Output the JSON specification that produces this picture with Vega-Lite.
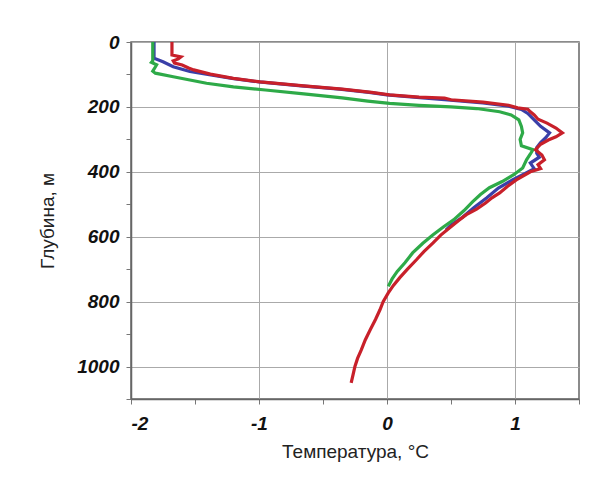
{
  "$schema": "https://vega.github.io/schema/vega-lite/v6.json",
  "autosize": "none",
  "width": 448,
  "height": 357,
  "padding": {"left": 131, "top": 42, "right": 31, "bottom": 82},
  "background": "white",
  "config": {
    "view": {"stroke": "#666666", "strokeWidth": 1.5},
    "axis": {
      "labelFont": "Liberation Sans",
      "labelFontWeight": "bold",
      "labelFontStyle": "italic",
      "labelFontSize": 19,
      "labelColor": "#111111",
      "titleFont": "Liberation Sans",
      "titleFontWeight": "normal",
      "titleFontSize": 19,
      "titleColor": "#222222",
      "domainColor": "#666666",
      "domainWidth": 1.5,
      "tickColor": "#777777",
      "tickSize": 5,
      "gridColor": "#aaaaaa",
      "gridWidth": 1
    }
  },
  "datasets": {
    "profiles": [
      {"series": "blue", "depth": 0, "T": -1.82},
      {"series": "blue", "depth": 50, "T": -1.82},
      {"series": "blue", "depth": 61, "T": -1.75},
      {"series": "blue", "depth": 76, "T": -1.67},
      {"series": "blue", "depth": 91, "T": -1.54},
      {"series": "blue", "depth": 100, "T": -1.40},
      {"series": "blue", "depth": 112, "T": -1.21},
      {"series": "blue", "depth": 123, "T": -1.0},
      {"series": "blue", "depth": 135, "T": -0.67},
      {"series": "blue", "depth": 145, "T": -0.37},
      {"series": "blue", "depth": 155, "T": -0.14},
      {"series": "blue", "depth": 163, "T": 0.0},
      {"series": "blue", "depth": 172, "T": 0.28},
      {"series": "blue", "depth": 178, "T": 0.45},
      {"series": "blue", "depth": 188, "T": 0.75},
      {"series": "blue", "depth": 198, "T": 0.95},
      {"series": "blue", "depth": 208, "T": 1.05},
      {"series": "blue", "depth": 220, "T": 1.10},
      {"series": "blue", "depth": 240, "T": 1.15},
      {"series": "blue", "depth": 260, "T": 1.20},
      {"series": "blue", "depth": 280, "T": 1.27},
      {"series": "blue", "depth": 295, "T": 1.24},
      {"series": "blue", "depth": 310, "T": 1.20},
      {"series": "blue", "depth": 325, "T": 1.17},
      {"series": "blue", "depth": 343, "T": 1.17},
      {"series": "blue", "depth": 355, "T": 1.19},
      {"series": "blue", "depth": 373, "T": 1.12},
      {"series": "blue", "depth": 390, "T": 1.15},
      {"series": "blue", "depth": 405, "T": 1.08},
      {"series": "blue", "depth": 425, "T": 0.98},
      {"series": "blue", "depth": 450, "T": 0.87},
      {"series": "blue", "depth": 480, "T": 0.78},
      {"series": "blue", "depth": 510, "T": 0.68},
      {"series": "blue", "depth": 540, "T": 0.59},
      {"series": "blue", "depth": 564, "T": 0.50},
      {"series": "blue", "depth": 580, "T": 0.46},

      {"series": "green", "depth": 0, "T": -1.83},
      {"series": "green", "depth": 58, "T": -1.83},
      {"series": "green", "depth": 63, "T": -1.84},
      {"series": "green", "depth": 70, "T": -1.80},
      {"series": "green", "depth": 77, "T": -1.81},
      {"series": "green", "depth": 90, "T": -1.83},
      {"series": "green", "depth": 96, "T": -1.81},
      {"series": "green", "depth": 107, "T": -1.67},
      {"series": "green", "depth": 117, "T": -1.54},
      {"series": "green", "depth": 127, "T": -1.41},
      {"series": "green", "depth": 138, "T": -1.20},
      {"series": "green", "depth": 148, "T": -0.95},
      {"series": "green", "depth": 160, "T": -0.65},
      {"series": "green", "depth": 172, "T": -0.35},
      {"series": "green", "depth": 182, "T": -0.15},
      {"series": "green", "depth": 189, "T": 0.02},
      {"series": "green", "depth": 195, "T": 0.25},
      {"series": "green", "depth": 200, "T": 0.50},
      {"series": "green", "depth": 205, "T": 0.70},
      {"series": "green", "depth": 215, "T": 0.88},
      {"series": "green", "depth": 225, "T": 0.97},
      {"series": "green", "depth": 240, "T": 1.03},
      {"series": "green", "depth": 260, "T": 1.05},
      {"series": "green", "depth": 280, "T": 1.06},
      {"series": "green", "depth": 300, "T": 1.04},
      {"series": "green", "depth": 320, "T": 1.05},
      {"series": "green", "depth": 332, "T": 1.14},
      {"series": "green", "depth": 345, "T": 1.12},
      {"series": "green", "depth": 363, "T": 1.09},
      {"series": "green", "depth": 388, "T": 1.06},
      {"series": "green", "depth": 409, "T": 0.99},
      {"series": "green", "depth": 430, "T": 0.90},
      {"series": "green", "depth": 449, "T": 0.80},
      {"series": "green", "depth": 470, "T": 0.73},
      {"series": "green", "depth": 492, "T": 0.67},
      {"series": "green", "depth": 520, "T": 0.60},
      {"series": "green", "depth": 548, "T": 0.52},
      {"series": "green", "depth": 570, "T": 0.44},
      {"series": "green", "depth": 594, "T": 0.36},
      {"series": "green", "depth": 620, "T": 0.28},
      {"series": "green", "depth": 650, "T": 0.20},
      {"series": "green", "depth": 680, "T": 0.14},
      {"series": "green", "depth": 707, "T": 0.08},
      {"series": "green", "depth": 730, "T": 0.04},
      {"series": "green", "depth": 753, "T": 0.01},

      {"series": "red", "depth": 0, "T": -1.68},
      {"series": "red", "depth": 40, "T": -1.68},
      {"series": "red", "depth": 46, "T": -1.61},
      {"series": "red", "depth": 52, "T": -1.63},
      {"series": "red", "depth": 58, "T": -1.67},
      {"series": "red", "depth": 65, "T": -1.66},
      {"series": "red", "depth": 71, "T": -1.60},
      {"series": "red", "depth": 80, "T": -1.55},
      {"series": "red", "depth": 86, "T": -1.51},
      {"series": "red", "depth": 99, "T": -1.38},
      {"series": "red", "depth": 112, "T": -1.20},
      {"series": "red", "depth": 123, "T": -0.99},
      {"series": "red", "depth": 135, "T": -0.65},
      {"series": "red", "depth": 145, "T": -0.35},
      {"series": "red", "depth": 155, "T": -0.12},
      {"series": "red", "depth": 163, "T": 0.02},
      {"series": "red", "depth": 170, "T": 0.25},
      {"series": "red", "depth": 173, "T": 0.45},
      {"series": "red", "depth": 178, "T": 0.50},
      {"series": "red", "depth": 185, "T": 0.75},
      {"series": "red", "depth": 195, "T": 0.95},
      {"series": "red", "depth": 203, "T": 1.02},
      {"series": "red", "depth": 207, "T": 1.10},
      {"series": "red", "depth": 215, "T": 1.12},
      {"series": "red", "depth": 225, "T": 1.15},
      {"series": "red", "depth": 238, "T": 1.18},
      {"series": "red", "depth": 250, "T": 1.25},
      {"series": "red", "depth": 265, "T": 1.32},
      {"series": "red", "depth": 280, "T": 1.37},
      {"series": "red", "depth": 292, "T": 1.32},
      {"series": "red", "depth": 302, "T": 1.26},
      {"series": "red", "depth": 315, "T": 1.20},
      {"series": "red", "depth": 332, "T": 1.16},
      {"series": "red", "depth": 348, "T": 1.21},
      {"series": "red", "depth": 363, "T": 1.23},
      {"series": "red", "depth": 378, "T": 1.18},
      {"series": "red", "depth": 390, "T": 1.20},
      {"series": "red", "depth": 400, "T": 1.12},
      {"series": "red", "depth": 425, "T": 1.01},
      {"series": "red", "depth": 445, "T": 0.94},
      {"series": "red", "depth": 465, "T": 0.88},
      {"series": "red", "depth": 480, "T": 0.82},
      {"series": "red", "depth": 496, "T": 0.77},
      {"series": "red", "depth": 515, "T": 0.70},
      {"series": "red", "depth": 532, "T": 0.62},
      {"series": "red", "depth": 550, "T": 0.56},
      {"series": "red", "depth": 572, "T": 0.49},
      {"series": "red", "depth": 595, "T": 0.42},
      {"series": "red", "depth": 619, "T": 0.36},
      {"series": "red", "depth": 645, "T": 0.29},
      {"series": "red", "depth": 671, "T": 0.23},
      {"series": "red", "depth": 700, "T": 0.16},
      {"series": "red", "depth": 726, "T": 0.10},
      {"series": "red", "depth": 750, "T": 0.05},
      {"series": "red", "depth": 773, "T": 0.01},
      {"series": "red", "depth": 800, "T": -0.03},
      {"series": "red", "depth": 825, "T": -0.055},
      {"series": "red", "depth": 855, "T": -0.09},
      {"series": "red", "depth": 886, "T": -0.13},
      {"series": "red", "depth": 918, "T": -0.17},
      {"series": "red", "depth": 948, "T": -0.20},
      {"series": "red", "depth": 975, "T": -0.23},
      {"series": "red", "depth": 999, "T": -0.25},
      {"series": "red", "depth": 1025, "T": -0.265},
      {"series": "red", "depth": 1050, "T": -0.28}
    ]
  },
  "data": {"name": "profiles"},
  "encoding": {
    "x": {
      "field": "T",
      "type": "quantitative",
      "scale": {"domain": [-2, 1.5], "nice": false, "zero": false},
      "axis": {
        "title": "Температура, °C",
        "values": [-2, -1.5, -1, -0.5, 0, 0.5, 1, 1.5],
        "labelExpr": "datum.value % 1 === 0 ? toString(datum.value) : ''",
        "labelPadding": 10,
        "titlePadding": 9,
        "gridOpacity": {"condition": {"test": "datum.value % 1 !== 0", "value": 0}, "value": 1}
      }
    },
    "y": {
      "field": "depth",
      "type": "quantitative",
      "scale": {"domain": [0, 1100], "reverse": true, "nice": false},
      "axis": {
        "title": "Глубина, м",
        "values": [0, 100, 200, 300, 400, 500, 600, 700, 800, 900, 1000, 1100],
        "labelExpr": "datum.value % 200 === 0 && datum.value < 1100 ? toString(datum.value) : ''",
        "labelPadding": 7,
        "titlePadding": 19,
        "gridOpacity": {"condition": {"test": "datum.value % 200 !== 0", "value": 0}, "value": 1}
      }
    },
    "order": {"field": "depth", "type": "quantitative"}
  },
  "layer": [
    {
      "transform": [{"filter": "datum.series === 'blue'"}],
      "mark": {"type": "line", "color": "#3a3fa8", "strokeWidth": 3.2}
    },
    {
      "transform": [{"filter": "datum.series === 'green'"}],
      "mark": {"type": "line", "color": "#2eaa48", "strokeWidth": 3.2}
    },
    {
      "transform": [{"filter": "datum.series === 'red'"}],
      "mark": {"type": "line", "color": "#c8202a", "strokeWidth": 3.2}
    }
  ]
}
